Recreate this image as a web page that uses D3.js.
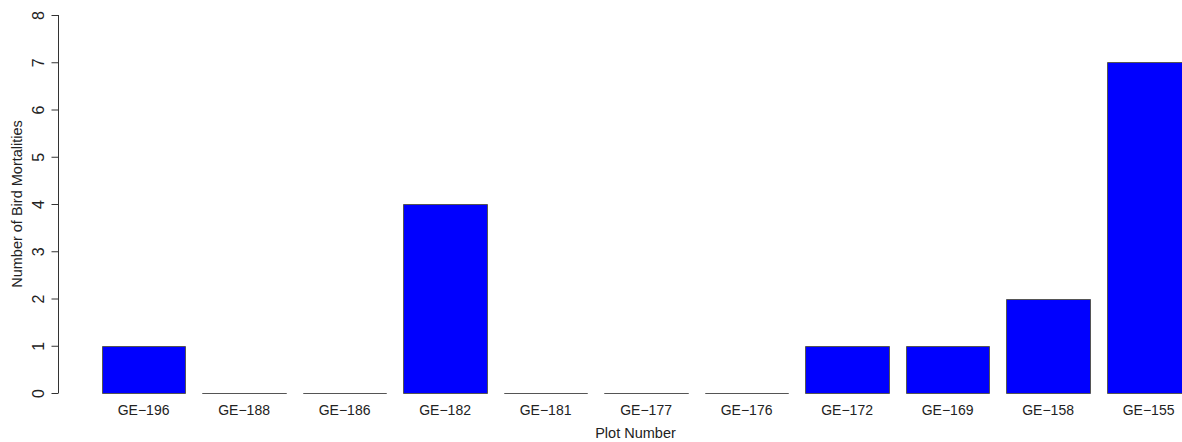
<!DOCTYPE html>
<html>
<head>
<meta charset="utf-8">
<script src="https://cdn.jsdelivr.net/npm/d3@7"></script>
<style>
  html, body { margin: 0; padding: 0; background: #fff; }
  svg { display: block; font-family: "Liberation Sans", Arial, Helvetica, sans-serif; }
</style>
</head>
<body>
<svg id="chart" width="1182" height="442"></svg>
<script>
// Bird mortalities counted per survey plot
const plots = ["GE-196", "GE-188", "GE-186", "GE-182", "GE-181", "GE-177", "GE-176", "GE-172", "GE-169", "GE-158", "GE-155"];
const mortalities = [1, 0, 0, 4, 0, 0, 0, 1, 1, 2, 7];
const yTicks = [0, 1, 2, 3, 4, 5, 6, 7, 8];

const svg = d3.select("#chart");

const y = d3.scaleLinear().domain([0, 8]).range([393, 15]);
const x = d3.scaleBand()
  .domain(plots)
  .range([101.7, 1190.45])
  .paddingInner(1 / 6)
  .paddingOuter(0);

// Bars (zero counts collapse to a flat outline)
svg.append("g")
  .selectAll("path")
  .data(plots.map((p, i) => ({ p, v: mortalities[i] })))
  .join("path")
  .attr("d", d => {
    const x0 = Math.round(x(d.p)) + 0.5;
    const x1 = Math.round(x(d.p) + x.bandwidth()) + 0.5;
    const y0 = Math.round(y(0)) + 0.5;
    const y1 = Math.round(y(d.v)) + 0.5;
    return `M${x0},${y0}H${x1}V${y1}H${x0}Z`;
  })
  .attr("fill", "#0000ff")
  .attr("stroke", "#555")
  .attr("stroke-width", 1);

// Y axis
const yAxis = d3.axisLeft(y).tickValues(yTicks).tickSize(7).tickPadding(0).tickFormat(d3.format("d"));
const gy = svg.append("g").attr("transform", "translate(58.5,0)").call(yAxis);
gy.attr("font-size", null).attr("font-family", null);
gy.select(".domain").attr("d", `M0,${y(0)}V${y(8)}`).attr("stroke", "#333");
gy.selectAll(".tick line").attr("stroke", "#333");
gy.selectAll(".tick text")
  .attr("x", null).attr("dy", null)
  .attr("transform", "translate(-15,0) rotate(-90)")
  .attr("text-anchor", "middle")
  .style("font-size", "16px")
  .style("font-family", "'Liberation Sans', Arial, sans-serif")
  .attr("fill", "#222");

// Category labels under each bar
svg.append("g")
  .selectAll("text")
  .data(plots)
  .join("text")
  .attr("x", d => x(d) + x.bandwidth() / 2)
  .attr("y", 415)
  .attr("text-anchor", "middle")
  .style("font-size", "14px")
  .attr("fill", "#222")
  .text(d => d.replace("-", "\u2212"));

// Axis titles
svg.append("text")
  .attr("x", 635.5)
  .attr("y", 438)
  .attr("text-anchor", "middle")
  .style("font-size", "14.5px")
  .attr("fill", "#222")
  .text("Plot Number");

svg.append("text")
  .attr("transform", `translate(22,${(y(0) + y(8)) / 2}) rotate(-90)`)
  .attr("text-anchor", "middle")
  .style("font-size", "14.5px")
  .attr("fill", "#222")
  .text("Number of Bird Mortalities");
</script>
</body>
</html>
